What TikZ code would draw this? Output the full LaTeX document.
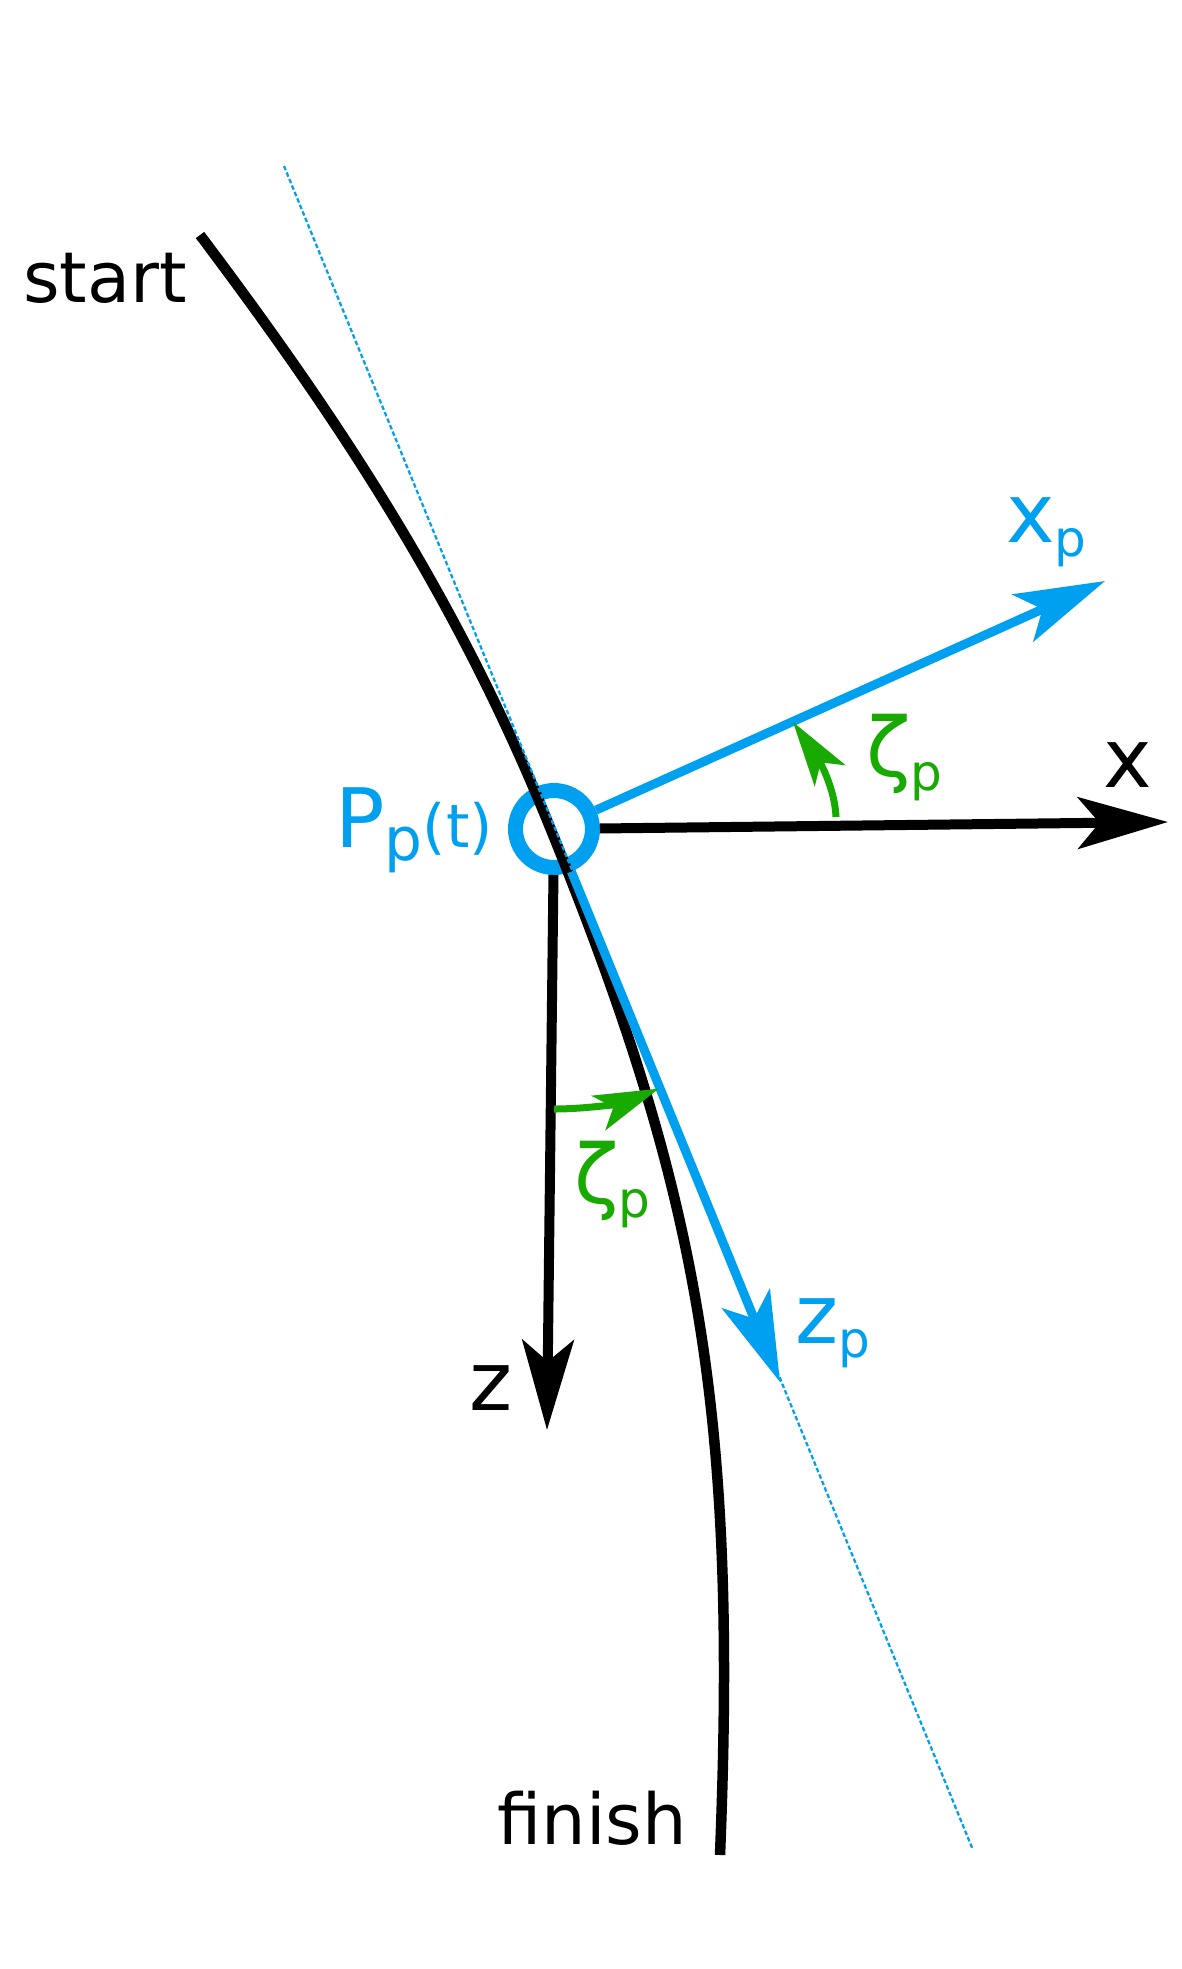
\documentclass[tikz,border=0pt]{standalone}
\usepackage{fontspec}
\setmainfont{DejaVu Sans}
\usetikzlibrary{arrows.meta}

\definecolor{pblue}{RGB}{0,160,240}
\definecolor{pgreen}{RGB}{24,170,0}
\newcommand{\psub}[1]{\raisebox{-8pt}{\fontsize{28.5}{30}\selectfont #1}}

\begin{document}
\begin{tikzpicture}[x=0.02cm, y=-0.02cm,
  bigtip/.style={-{Stealth[length=1.8cm, width=1.03cm, inset=0.43cm]}},
  axis/.style={bigtip, line width=0.2cm},
  paxis/.style={bigtip, line width=0.18cm, pblue},
  angarrow/.style={-{Stealth[length=1.3cm, width=0.74cm, inset=0.32cm]}, line width=0.14cm, pgreen},
  track/.style={line width=0.21cm},
  tangent/.style={pblue, line width=0.045cm, dash pattern=on 0.09cm off 0.05cm},
  sym/.style={font=\fontsize{46.7}{50}\selectfont, inner sep=0pt, anchor=base west},
  word/.style={font=\fontsize{40}{48}\selectfont, inner sep=0pt, anchor=base west}]
  \useasboundingbox (0,0) rectangle (1181,1969);

  \node[circle, draw=pblue, line width=0.3cm, minimum size=1.54cm, inner sep=0pt] (P) at (554,829) {};

  \coordinate (xtip) at (1168,822);
  \coordinate (ztip) at (547,1430);
  \coordinate (xptip) at (1105,581);
  \coordinate (zptip) at (780,1382);
  \coordinate (dotA) at (284,166);
  \coordinate (dotB) at (973,1850);
  \coordinate (arcAs) at (836,817);
  \coordinate (arcAe) at (793,722);
  \coordinate (arcBs) at (554,1109);
  \coordinate (trS) at (200,235);
  \coordinate (trM) at (547,820);
  \coordinate (trE) at (720,1855);

  \draw[track] (trS) .. controls +(143,190) and +(-90,-220) .. (trM)
    .. controls +(151,370) and +(18,-450) .. (trE);
  \draw[tangent] (dotA) -- (dotB);

  \draw[axis] (P) -- (xtip);
  \draw[axis] (P) -- (ztip);
  \draw[paxis] (P) -- (xptip);
  \draw[paxis] (P) -- (zptip);

  \draw[angarrow] (arcAs) .. controls +(-1.5,-35) and +(20,29) .. (arcAe);
  \draw[angarrow] (arcBs) arc[start angle=90, end angle=68, radius=280];

  \node[word] (lstart) at (23,302) {start};
  \node[word] (lfinish) at (497,1844) {finish};
  \node[sym, text=pblue] (lPp) at (335,847) {P{\fontsize{34}{40}\selectfont\raisebox{-7.4pt}{p}(t)}};
  \node[sym, text=pblue] (lxp) at (1006,542) {x\psub{p}};
  \node[sym, text=pblue] (lzp) at (795,1343) {z\psub{p}};
  \node[sym] (lx) at (1103,787) {x};
  \node[sym] (lz) at (469,1410) {z};
  \node[sym, text=pgreen] (lzeta1) at (866,776) {ζ\psub{p}};
  \node[sym, text=pgreen] (lzeta2) at (574,1203) {ζ\psub{p}};
\end{tikzpicture}
\end{document}
